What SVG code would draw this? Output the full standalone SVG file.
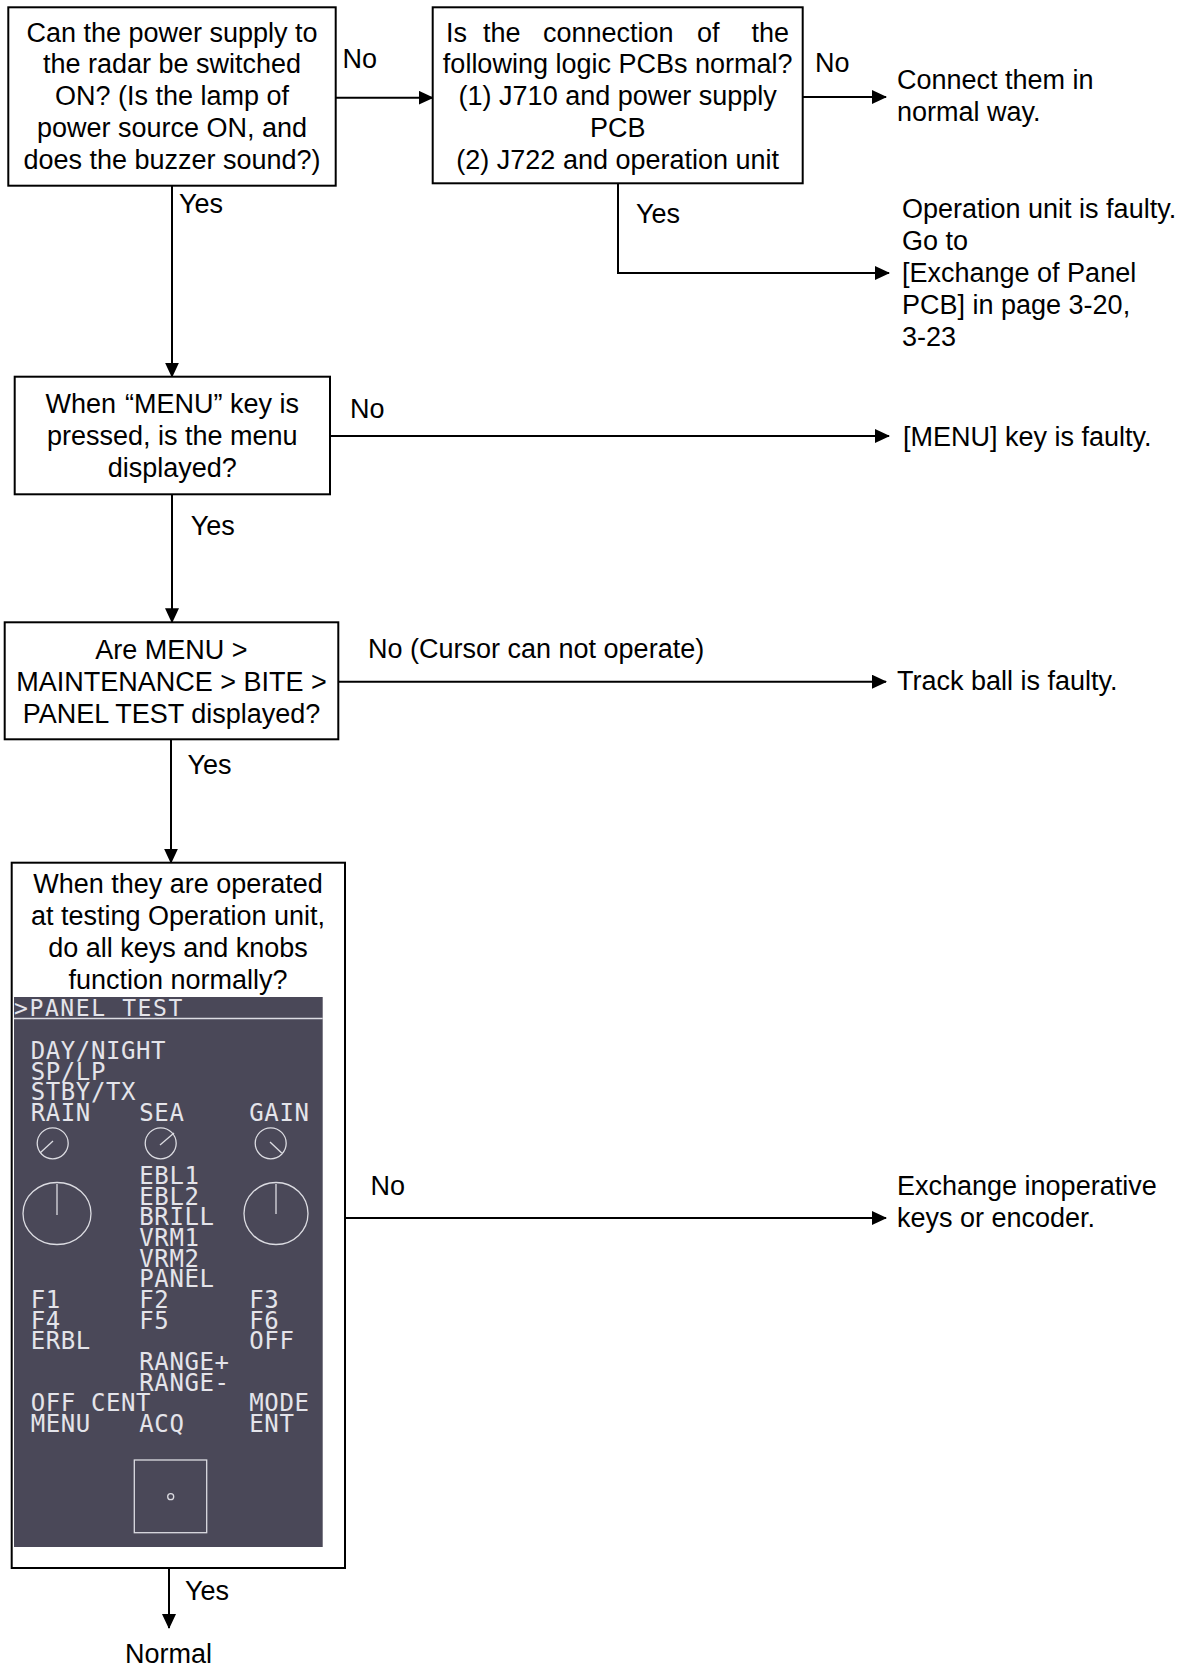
<svg xmlns="http://www.w3.org/2000/svg" width="1178" height="1670" viewBox="0 0 1178 1670">
  <style>
    .box { fill: #ffffff; stroke: #000000; stroke-width: 2; }
    .t { font-family: "Liberation Sans", Arial, sans-serif; font-size: 27px; fill: #000000; }
    .c { text-anchor: middle; }
    .conn { fill: none; stroke: #000000; stroke-width: 2; }
    .mono { font-family: "DejaVu Sans Mono", "Liberation Mono", monospace; font-size: 24px; fill: #e4e4ea; letter-spacing: 0.6px; }
    .ui { fill: none; stroke: #dcdce2; stroke-width: 1.3; }
  </style>
  <defs>
    <marker id="arr" markerUnits="userSpaceOnUse" markerWidth="16" markerHeight="14" refX="14" refY="7" orient="auto">
      <path d="M0,0 L15,7 L0,14 Z" fill="#000000"/>
    </marker>
  </defs>
  <rect x="0" y="0" width="1178" height="1670" fill="#ffffff"/>

  <g id="connectors">
    <line class="conn" x1="335.7" y1="97.7" x2="432.7" y2="97.7" marker-end="url(#arr)"/>
    <line class="conn" x1="802.7" y1="97" x2="886" y2="97" marker-end="url(#arr)"/>
    <polyline class="conn" points="618,183.3 618,273 889,273" marker-end="url(#arr)"/>
    <line class="conn" x1="172" y1="185.7" x2="172" y2="376.7" marker-end="url(#arr)"/>
    <line class="conn" x1="330" y1="436" x2="889" y2="436" marker-end="url(#arr)"/>
    <line class="conn" x1="172" y1="494.3" x2="172" y2="622.3" marker-end="url(#arr)"/>
    <line class="conn" x1="338.3" y1="681.7" x2="886" y2="681.7" marker-end="url(#arr)"/>
    <line class="conn" x1="171" y1="739.3" x2="171" y2="862.7" marker-end="url(#arr)"/>
    <line class="conn" x1="345" y1="1218" x2="886" y2="1218" marker-end="url(#arr)"/>
    <line class="conn" x1="169" y1="1568" x2="169" y2="1628" marker-end="url(#arr)"/>

    <text class="t" x="342.5" y="68">No</text>
    <text class="t" x="815" y="71.7">No</text>
    <text class="t" x="179" y="213">Yes</text>
    <text class="t" x="636" y="222.7">Yes</text>
    <text class="t" x="350" y="418">No</text>
    <text class="t" x="190.7" y="535">Yes</text>
    <text class="t" x="368" y="658">No (Cursor can not operate)</text>
    <text class="t" x="187.5" y="774">Yes</text>
    <text class="t" x="370.6" y="1195">No</text>
    <text class="t" x="185" y="1600">Yes</text>
  </g>

  <g id="n1">
    <rect class="box" x="8.3" y="7.3" width="327.4" height="178.4"/>
    <text class="t c" x="172" y="41.5">Can the power supply to</text>
    <text class="t c" x="172" y="73.4">the radar be switched</text>
    <text class="t c" x="172" y="105.3">ON? (Is the lamp of</text>
    <text class="t c" x="172" y="137.2">power source ON, and</text>
    <text class="t c" x="172" y="169.1">does the buzzer sound?)</text>
  </g>

  <g id="n2">
    <rect class="box" x="432.7" y="7.3" width="370" height="176"/>
    <text class="t" y="41.5"><tspan x="446">Is</tspan><tspan x="483">the</tspan><tspan x="543">connection</tspan><tspan x="697">of</tspan></text>
    <text class="t" x="789" y="41.5" text-anchor="end">the</text>
    <text class="t c" x="617.7" y="73.4">following logic PCBs normal?</text>
    <text class="t c" x="617.7" y="105.3">(1) J710 and power supply</text>
    <text class="t c" x="617.7" y="137.2">PCB</text>
    <text class="t c" x="617.7" y="169.1">(2) J722 and operation unit</text>
  </g>

  <g id="n2_no">
    <text class="t" x="897" y="88.5">Connect them in</text>
    <text class="t" x="897" y="120.5">normal way.</text>
  </g>

  <g id="n2_yes">
    <text class="t" x="902" y="218.2">Operation unit is faulty.</text>
    <text class="t" x="902" y="250.2">Go to</text>
    <text class="t" x="902" y="282.2">[Exchange of Panel</text>
    <text class="t" x="902" y="314.2">PCB] in page 3-20,</text>
    <text class="t" x="902" y="346.2">3-23</text>
  </g>

  <g id="n3">
    <rect class="box" x="14.7" y="376.7" width="315.3" height="117.6"/>
    <text class="t c" x="172.3" y="412.5">When<tspan dx="9">“MENU” key is</tspan></text>
    <text class="t c" x="172.3" y="444.5">pressed, is the menu</text>
    <text class="t c" x="172.3" y="476.5">displayed?</text>
  </g>

  <g id="n3_no">
    <text class="t" x="903" y="446">[MENU] key is faulty.</text>
  </g>

  <g id="n4">
    <rect class="box" x="4.7" y="622.3" width="333.6" height="117"/>
    <text class="t c" x="171.5" y="659">Are MENU &gt;</text>
    <text class="t c" x="171.5" y="691">MAINTENANCE &gt; BITE &gt;</text>
    <text class="t c" x="171.5" y="723">PANEL TEST displayed?</text>
  </g>

  <g id="n4_no">
    <text class="t" x="897" y="690">Track ball is faulty.</text>
  </g>

  <g id="n5">
    <rect class="box" x="11.7" y="862.7" width="333.3" height="705.3"/>
    <text class="t c" x="178" y="892.5">When they are operated</text>
    <text class="t c" x="178" y="924.5">at testing Operation unit,</text>
    <text class="t c" x="178" y="956.5">do all keys and knobs</text>
    <text class="t c" x="178" y="988.5">function normally?</text>

    <g id="panel">
      <rect x="14" y="997" width="308.7" height="550" fill="#4a4858"/>
      <text class="mono" x="14" y="1015.7" style="font-size:23px;letter-spacing:1.6px">&gt;PANEL TEST</text>
      <line x1="14" y1="1018.5" x2="322.7" y2="1018.5" stroke="#dcdce2" stroke-width="1.5"/>

      <text class="mono"><tspan x="30.7" y="1059">DAY/NIGHT</tspan><tspan x="30.7" y="1079.7">SP/LP</tspan><tspan x="30.7" y="1100.3">STBY/TX</tspan><tspan x="30.7" y="1121">RAIN</tspan></text>
      <text class="mono" x="139.3" y="1121">SEA</text>
      <text class="mono" x="249.3" y="1121">GAIN</text>

      <circle class="ui" cx="52.7" cy="1143.3" r="15.5"/>
      <line class="ui" x1="53" y1="1141" x2="40" y2="1153"/>
      <circle class="ui" cx="160.7" cy="1143.3" r="15.5"/>
      <line class="ui" x1="160" y1="1145" x2="174" y2="1133"/>
      <circle class="ui" cx="270.7" cy="1143.3" r="15.5"/>
      <line class="ui" x1="270" y1="1142" x2="281.7" y2="1153"/>

      <ellipse class="ui" cx="57" cy="1213.5" rx="34" ry="31"/>
      <line class="ui" x1="57" y1="1184" x2="57" y2="1215"/>
      <ellipse class="ui" cx="276" cy="1213.5" rx="32" ry="31"/>
      <line class="ui" x1="276" y1="1184" x2="276" y2="1214"/>

      <text class="mono"><tspan x="139.3" y="1184">EBL1</tspan><tspan x="139.3" y="1204.7">EBL2</tspan><tspan x="139.3" y="1225.3">BRILL</tspan><tspan x="139.3" y="1246">VRM1</tspan><tspan x="139.3" y="1266.7">VRM2</tspan><tspan x="139.3" y="1287.3">PANEL</tspan><tspan x="139.3" y="1308">F2</tspan><tspan x="139.3" y="1328.7">F5</tspan></text>
      <text class="mono"><tspan x="30.7" y="1308">F1</tspan><tspan x="30.7" y="1328.7">F4</tspan><tspan x="30.7" y="1349.3">ERBL</tspan></text>
      <text class="mono"><tspan x="249.3" y="1308">F3</tspan><tspan x="249.3" y="1328.7">F6</tspan><tspan x="249.3" y="1349.3">OFF</tspan></text>
      <text class="mono"><tspan x="139.3" y="1370">RANGE+</tspan><tspan x="139.3" y="1390.7">RANGE-</tspan></text>
      <text class="mono"><tspan x="30.7" y="1411.3">OFF CENT</tspan><tspan x="30.7" y="1432">MENU</tspan></text>
      <text class="mono" x="139.3" y="1432">ACQ</text>
      <text class="mono"><tspan x="249.3" y="1411.3">MODE</tspan><tspan x="249.3" y="1432">ENT</tspan></text>

      <rect class="ui" x="134.3" y="1460" width="72.4" height="72.7"/>
      <circle class="ui" cx="170.7" cy="1496.7" r="3"/>
    </g>
  </g>

  <g id="n5_no">
    <text class="t" x="897" y="1195">Exchange inoperative</text>
    <text class="t" x="897" y="1227">keys or encoder.</text>
  </g>

  <g id="n_normal">
    <text class="t c" x="168.5" y="1663">Normal</text>
  </g>
</svg>
